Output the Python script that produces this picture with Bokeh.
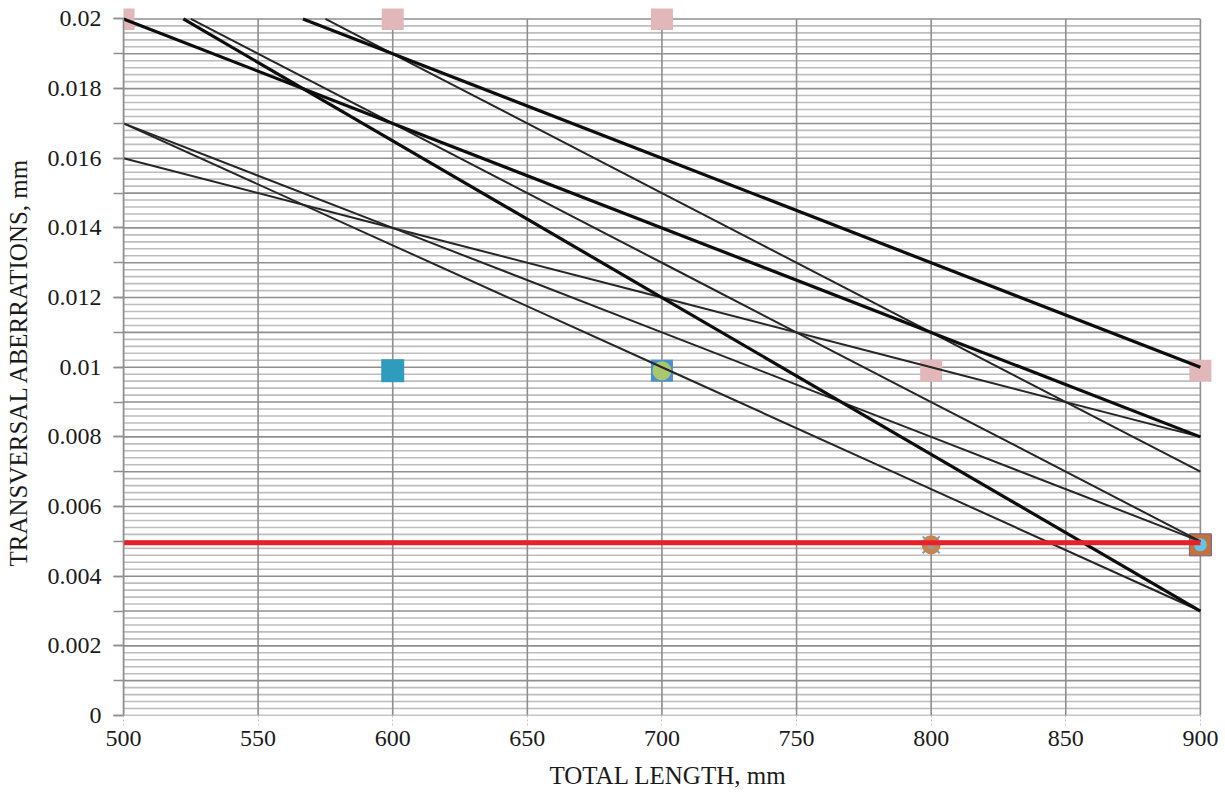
from bokeh.plotting import figure
from bokeh.models import Range1d, FixedTicker
from bokeh.embed import file_html
from bokeh.resources import INLINE

# ---------------- data ----------------
total_length = [500, 600, 700, 800, 900]

# thick curves
thick_a = [0.020, 0.017, 0.014, 0.011, 0.008]
thick_b = [0.022, 0.019, 0.016, 0.013, 0.010]
thick_c = [0.021, 0.0165, 0.012, 0.0075, 0.003]
# thin curves
thin_a = [0.023, 0.019, 0.015, 0.011, 0.007]
thin_b = [0.021, 0.017, 0.013, 0.009, 0.005]
thin_c = [0.017, 0.014, 0.011, 0.008, 0.005]
thin_d = [0.017, 0.0135, 0.010, 0.0065, 0.003]
thin_e = [0.016, 0.014, 0.012, 0.010, 0.008]

# limit line
limit_x = [500, 900]
limit_y = [0.00496, 0.00496]

# markers
pink_x = [500, 600, 700, 800, 900]
pink_y = [0.02, 0.02, 0.02, 0.0099, 0.0099]
teal_x = [600]
teal_y = [0.0099]
green_x = [700]
green_y = [0.0099]
orange_circ_x = [800]
orange_circ_y = [0.0049]
orange_sq_x = [900]
orange_sq_y = [0.0049]

# ticks
x_ticks = [500, 550, 600, 650, 700, 750, 800, 850, 900]
y_tick_values = [0.0, 0.002, 0.004, 0.006, 0.008, 0.010, 0.012, 0.014, 0.016, 0.018, 0.020]
y_tick_labels = ["0", "0.002", "0.004", "0.006", "0.008", "0.01", "0.012", "0.014", "0.016", "0.018", "0.02"]
y_step_ticks = [round(k * 0.001, 4) for k in range(0, 21)]
y_fine_ticks = [round(k * 0.0002, 5) for k in range(0, 101) if k % 5 != 0]

X_MIN, X_MAX = x_ticks[0], x_ticks[-1]
Y_MIN, Y_MAX = y_tick_values[0], y_tick_values[-1]

FONT = "Liberation Serif"


def clip_top(xs, ys, top):
    """Keep the part of a polyline that lies at or below `top`."""
    ox, oy = [], []
    for i in range(len(xs)):
        inside = ys[i] <= top
        if i > 0:
            prev_inside = ys[i - 1] <= top
            if inside != prev_inside:
                t = (top - ys[i - 1]) / (ys[i] - ys[i - 1])
                ox.append(xs[i - 1] + t * (xs[i] - xs[i - 1]))
                oy.append(top)
        if inside:
            ox.append(xs[i])
            oy.append(ys[i])
    return ox, oy


p = figure(width=1225, height=799,
           x_range=Range1d(X_MIN, X_MAX + 4.5), y_range=Range1d(Y_MIN, Y_MAX + 0.0003),
           output_backend="svg", toolbar_location=None,
           min_border_left=123, min_border_right=13,
           min_border_top=8, min_border_bottom=84)

p.background_fill_color = "white"
p.border_fill_color = "white"
p.outline_line_color = None
p.xgrid.grid_line_color = None
p.ygrid.grid_line_color = None

# axes
p.xaxis.ticker = FixedTicker(ticks=x_ticks)
p.xaxis.axis_line_color = None
p.xaxis.major_tick_line_color = "#c4c4c4"
p.xaxis.major_tick_line_dash = "2 2"
p.xaxis.major_tick_out = 10
p.xaxis.major_tick_in = 0
p.xaxis.minor_tick_line_color = None
p.xaxis.major_label_standoff = 5
p.xaxis.axis_label = "TOTAL LENGTH, mm"
p.xaxis.axis_label_standoff = 13

p.yaxis.ticker = FixedTicker(ticks=y_tick_values, minor_ticks=y_step_ticks)
p.yaxis.major_label_overrides = dict(zip(y_tick_values, y_tick_labels))
p.yaxis.bounds = (Y_MIN, Y_MAX)
p.yaxis.axis_line_color = "#8f8f8f"
p.yaxis.axis_line_width = 1.6
p.yaxis.major_tick_line_color = "#8f8f8f"
p.yaxis.major_tick_line_width = 1.6
p.yaxis.major_tick_out = 10
p.yaxis.major_tick_in = 0
p.yaxis.minor_tick_line_color = "#8f8f8f"
p.yaxis.minor_tick_line_width = 1.6
p.yaxis.minor_tick_out = 10
p.yaxis.minor_tick_in = 0
p.yaxis.major_label_standoff = 12
p.yaxis.axis_label = "TRANSVERSAL ABERRATIONS, mm"
p.yaxis.axis_label_standoff = 13

p.axis.major_label_text_font = FONT
p.axis.major_label_text_font_size = "24px"
p.axis.major_label_text_font_style = "normal"
p.axis.major_label_text_color = "#1a1a1a"
p.axis.axis_label_text_font = FONT
p.axis.axis_label_text_font_size = "25px"
p.axis.axis_label_text_font_style = "normal"
p.axis.axis_label_text_color = "#1a1a1a"

# grid drawn inside the data box only
n_fine = len(y_fine_ticks)
p.segment(x0=[X_MIN] * n_fine, x1=[X_MAX] * n_fine, y0=y_fine_ticks, y1=y_fine_ticks,
          line_color="#bdbdbd", line_width=1.6)
n_step = len(y_step_ticks)
p.segment(x0=[X_MIN] * n_step, x1=[X_MAX] * n_step, y0=y_step_ticks, y1=y_step_ticks,
          line_color="#8f8f8f", line_width=1.6)
n_x = len(x_ticks)
p.segment(x0=x_ticks, x1=x_ticks, y0=[Y_MIN] * n_x, y1=[Y_MAX] * n_x,
          line_color="#8f8f8f", line_width=1.6)

# markers (under the lines)
p.scatter(pink_x, pink_y, marker="square", size=22, fill_color="#e2b7ba", line_color=None)
p.scatter(teal_x, teal_y, marker="square", size=23, fill_color="#2f9cbe", line_color=None)
p.scatter(green_x, green_y, marker="square", size=22, fill_color="#4a90d0", line_color=None)
p.scatter(green_x, green_y, marker="circle", size=19, fill_color="#a9c76c", line_color=None)
p.scatter(orange_circ_x, orange_circ_y, marker="x", size=24, line_color="#6aa6dc", line_width=2)
p.scatter(orange_circ_x, orange_circ_y, marker="circle", size=19, fill_color="#c88450", line_color=None)
p.scatter(orange_circ_x, orange_circ_y, marker="circle", size=8, fill_color="#9a9a9a", line_color=None)
p.scatter(orange_sq_x, orange_sq_y, marker="square", size=22, fill_color="#c0723f", line_color="#7a5a8a", line_width=1)
p.scatter(orange_sq_x, orange_sq_y, marker="circle", size=13, fill_color="#64c4e6", line_color=None)

# curves
for ys in (thin_a, thin_b, thin_c, thin_d, thin_e):
    cx, cy = clip_top(total_length, ys, Y_MAX)
    p.line(cx, cy, line_color="#262626", line_width=2.0)
for ys in (thick_a, thick_b, thick_c):
    cx, cy = clip_top(total_length, ys, Y_MAX)
    p.line(cx, cy, line_color="#0d0d0d", line_width=3.2)

# limit
p.line(limit_x, limit_y, line_color="#e8202a", line_width=5)

open("out.html", "w").write(file_html(p, INLINE))
